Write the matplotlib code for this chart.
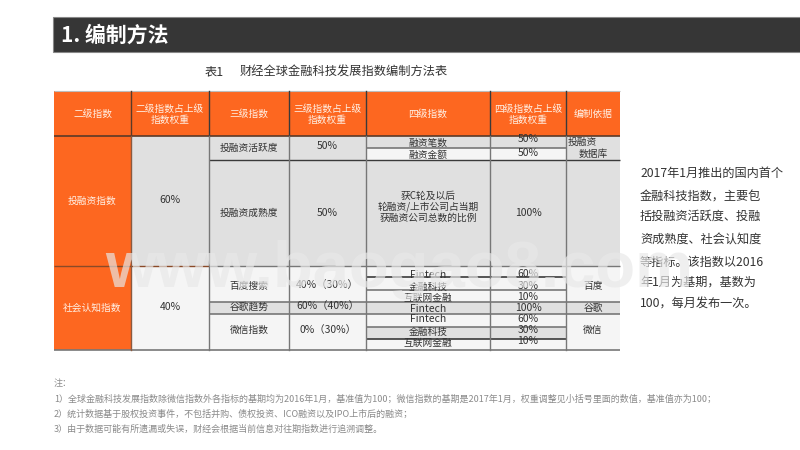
import matplotlib
matplotlib.use("Agg")
import matplotlib.pyplot as plt
from matplotlib.patches import Rectangle

plt.rcParams['font.family'] = ['Noto Sans CJK SC', 'DejaVu Sans']

ORANGE = '#fd6720'
GRAY = '#e0e0e0'
LIGHT = '#f5f5f5'
DARK = '#3a3a3a'
MID = '#777777'
TXT = '#333333'

title = '1. 编制方法'
table_no = '表1'
table_title = '财经全球金融科技发展指数编制方法表'
headers = ['二级指数', '二级指数占上级\n指数权重', '三级指数', '三级指数占上级\n指数权重',
           '四级指数', '四级指数占上级\n指数权重', '编制依据']
col_x = [54, 131, 209, 289, 366, 490, 566, 620]
level2 = [('投融资指数', '60%', 136, 266, GRAY, 200, 199), ('社会认知指数', '40%', 266, 350, LIGHT, 307, 306)]
level3 = [('投融资活跃度', '50%', 136, 160, 147, 145),
          ('投融资成熟度', '50%', 160, 266, 212, 212),
          ('百度搜索', '40%（30%）', 266, 302, 285, 284),
          ('谷歌趋势', '60%（40%）', 302, 314, 306, 305),
          ('微信指数', '0%（30%）', 314, 350, 329, 329)]
level4 = [('融资笔数', '50%', 136, 148, GRAY, 142, 138),
          ('融资金额', '50%', 148, 160, LIGHT, 154, 152),
          ('获C轮及以后\n轮融资/上市公司占当期\n获融资公司总数的比例', '100%', 160, 266, GRAY, 206, 212),
          ('Fintech', '60%', 266, 277, LIGHT, 274, 273),
          ('金融科技', '30%', 277, 290, LIGHT, 286, 285),
          ('互联网金融', '10%', 290, 302, LIGHT, 297, 296),
          ('Fintech', '100%', 302, 314, GRAY, 308, 307),
          ('Fintech', '60%', 314, 327, LIGHT, 318, 318),
          ('金融科技', '30%', 327, 339, GRAY, 331, 329),
          ('互联网金融', '10%', 339, 350, LIGHT, 342, 340)]
basis = [('', 136, 160, GRAY, 145), ('', 160, 266, GRAY, 212),
         ('百度', 266, 302, LIGHT, 285), ('谷歌', 302, 314, GRAY, 307), ('微信', 314, 350, LIGHT, 329)]
basis_top = [('投融资', 568, 141), ('数据库', 579, 153)]
side_lines = [('2017年1月推出的国内首个', 172), ('金融科技指数，主要包', 196), ('括投融资活跃度、投融', 215),
              ('资成熟度、社会认知度', 238), ('等指标。该指数以2016', 261), ('年1月为基期，基数为', 281),
              ('100，每月发布一次。', 303)]
notes = [('注：', 383),
         ('1）全球金融科技发展指数除微信指数外各指标的基期均为2016年1月，基准值为100；微信指数的基期是2017年1月，权重调整见小括号里面的数值，基准值亦为100；', 398),
         ('2）统计数据基于股权投资事件，不包括并购、债权投资、ICO融资以及IPO上市后的融资；', 413),
         ('3）由于数据可能有所遗漏或失误，财经会根据当前信息对往期指数进行追溯调整。', 428)]
watermark = 'www.baogao8.com'

fig = plt.figure(figsize=(8, 4.5), dpi=100)
ax = fig.add_axes([0, 0, 1, 1])
ax.set_xlim(0, 800)
ax.set_ylim(450, 0)
ax.axis('off')


def rect(x0, x1, y0, y1, fc, z=1):
    ax.add_patch(Rectangle((x0, y0), x1 - x0, y1 - y0, fc=fc, ec='none', zorder=z))


def hline(x0, x1, y, c=DARK, lw=1.0):
    ax.plot([x0, x1], [y, y], color=c, lw=lw, zorder=3, solid_capstyle='butt')


def label(x, y, s, size=7, c=TXT, ha='center', **kw):
    ax.text(x, y + 1, s, fontsize=size, color=c, ha=ha, va='center', zorder=4, linespacing=1.12, **kw)


ax.add_patch(Rectangle((53, 17), 750, 35, fc='#363636', ec='#888888', lw=0.8, zorder=1))
label(61, 34, title, size=15, c='white', ha='left', fontweight='bold')
label(205, 71, table_no, size=8.8, ha='left')
label(240, 71, table_title, size=8.8, ha='left')

for i, h in enumerate(headers):
    rect(col_x[i], col_x[i + 1], 91, 136, ORANGE)
    label((col_x[i] + col_x[i + 1]) / 2, 113, h, c='#fff1e6')

for name, w, y0, y1, fc, ty, wy in level2:
    rect(col_x[0], col_x[1], y0, y1, ORANGE)
    rect(col_x[1], col_x[2], y0, y1, fc)
    label((col_x[0] + col_x[1]) / 2, ty, name, c='#fff1e6')
    label((col_x[1] + col_x[2]) / 2, wy, w, size=7.5)

for name, w, y0, y1, ty, wy in level3:
    fc = LIGHT if y0 >= 266 and name != '谷歌趋势' else GRAY
    rect(col_x[2], col_x[4], y0, y1, fc)
    label((col_x[2] + col_x[3]) / 2, ty, name)
    label((col_x[3] + col_x[4]) / 2, wy, w, size=7.5)

for name, w, y0, y1, fc, ty, wy in level4:
    rect(col_x[4], col_x[6], y0, y1, fc)
    label((col_x[4] + col_x[5]) / 2, ty, name, size=7.5 if name == 'Fintech' else 7)
    label((col_x[5] + col_x[6]) / 2, wy, w, size=7.5)

for name, y0, y1, fc, ty in basis:
    rect(col_x[6], col_x[7], y0, y1, fc)
    if name:
        label((col_x[6] + col_x[7]) / 2, ty, name)
for s, x, y in basis_top:
    label(x, y, s, ha='left')

hline(54, 620, 91, '#bdbdbd', 0.8)
hline(54, 620, 136, '#5a3a28', 1.2)
hline(209, 620, 160, DARK, 1.0)
hline(54, 209, 266, '#8a4a28', 1.0)
hline(209, 620, 266, MID, 1.0)
hline(366, 566, 148, MID, 1.2)
for y, c in [(277, DARK), (290, MID), (302, MID), (314, MID), (327, MID), (339, DARK)]:
    hline(366, 566, y, c, 1.2)
hline(209, 366, 302, MID, 1.2)
hline(209, 366, 314, MID, 1.2)
hline(566, 620, 302, MID, 1.2)
hline(566, 620, 314, MID, 1.2)
hline(54, 620, 350, MID, 1.2)
for i, x in enumerate(col_x[1:-1]):
    c = '#5a3a28' if i == 0 else DARK
    ax.plot([x, x], [91, 136], color=c, lw=1.0, zorder=3)
    ax.plot([x, x], [136, 350], color=('#8a5a40' if i == 0 else MID), lw=1.0, zorder=3)

for s, y in side_lines:
    label(640, y, s, size=8.75, ha='left')
for s, y in notes:
    label(54, y, s, size=6.5, c='#8a8a8a', ha='left')

ax.text(399, 287, watermark, fontsize=47, fontweight='bold', family=['Liberation Sans', 'DejaVu Sans'],
        color='#e8e8e8', alpha=0.68, ha='center', va='baseline', zorder=5)

fig.savefig('out.png', dpi=100, facecolor='white')
